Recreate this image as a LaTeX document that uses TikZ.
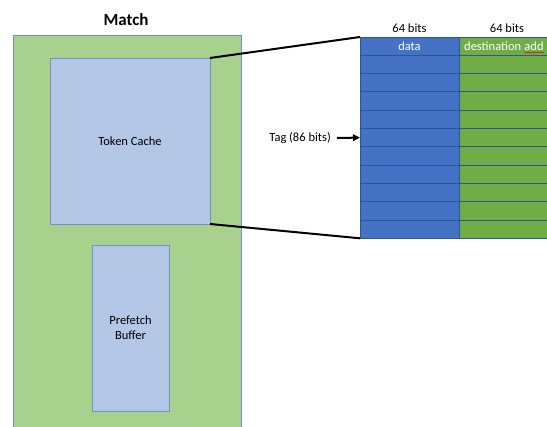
\documentclass[tikz,border=0pt]{standalone}
\usepackage{fontspec}
\setmainfont{Carlito}
\usetikzlibrary{arrows.meta,decorations.pathmorphing}
\definecolor{outergreen}{HTML}{A9D18E}
\definecolor{edgeblue}{HTML}{7391C4}
\definecolor{paleblue}{HTML}{B4C7E7}
\definecolor{cellblue}{HTML}{4472C4}
\definecolor{cellgreen}{HTML}{70AD47}
\definecolor{rowline}{HTML}{2F5597}
\begin{document}
\begin{tikzpicture}[x=1pt,y=-1pt,
  font=\fontsize{12.5}{15}\selectfont,
  block/.style={draw=edgeblue,line width=0.8pt,inner sep=0pt,outer sep=0pt,anchor=north west},
  cell/.style={draw=rowline,line width=0.8pt,inner sep=0pt,outer sep=0pt,anchor=north west,minimum height=18.3pt},
  zoomline/.style={line width=2pt,black},
]
\useasboundingbox (0,0) rectangle (547,427);
\clip (0,0) rectangle (547,427);

% match unit with its two stores
\node[font=\bfseries\fontsize{17}{20}\selectfont] (title) at (126,20) {Match};
\node[block,fill=outergreen,minimum width=228pt,minimum height=400pt] (match) at (13,35) {};
\node[block,fill=paleblue,minimum width=160pt,minimum height=166pt] (tc) at (50,58) {Token Cache};
\node[block,fill=paleblue,minimum width=77pt,minimum height=166pt,align=center] (pb) at (92,245) {Prefetch\\Buffer};

% token cache entries
\foreach \i in {1,...,11}{
  \node[cell,fill=cellblue,minimum width=99pt] (d\i) at (360,{37+(\i-1)*18.3}) {};
  \node[cell,fill=cellgreen,minimum width=100pt] (a\i) at (459,{37+(\i-1)*18.3}) {};
}
\node (w1) at (d1.north |- 0,28) {64 bits};
\node (w2) at (507,28) {64 bits};
\node[text=white] at (d1.center) {data};
\node[text=white,anchor=base west,inner sep=0pt] (dest) at (464,50.5) {destination};
\node[text=white,anchor=base west,inner sep=0pt] (addw) at ([xshift=2.8pt]dest.base east) {add};
\draw[red!85!black,line width=0.5pt,decorate,decoration={snake,amplitude=0.5pt,segment length=2pt}]
  ([yshift=-2pt]addw.base west) -- ([yshift=-2pt]addw.base east);

% tag pointer
\node[anchor=east,inner sep=0pt] (tag) at (331,138) {Tag (86 bits)};
\draw[-{Triangle[length=7pt,width=6.5pt]},line width=2pt,shorten <=6pt] (tag.east) -- (d6.west);

% zoom lines from the cache to its entries
\draw[zoomline] (tc.north east) -- (d1.north west);
\draw[zoomline] (tc.south east) -- (d11.south west);
\end{tikzpicture}
\end{document}
